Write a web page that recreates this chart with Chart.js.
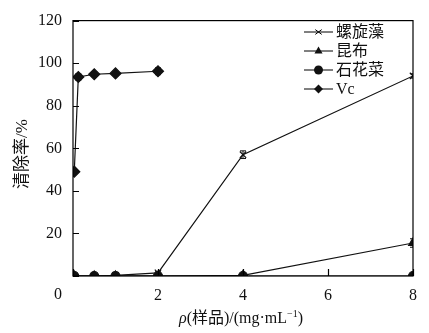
<!DOCTYPE html>
<html>
<head>
<meta charset="utf-8">
<script src="https://cdn.jsdelivr.net/npm/chart.js@4.4.0/dist/chart.umd.min.js"></script>
<style>
    html, body { margin: 0; padding: 0; background: #fff; }
    #wrap { width: 429px; height: 333px; }
</style>
</head>
<body>
<div id="wrap"><canvas id="scavengeChart"></canvas></div>
<script>
// Concentrations (mg/mL)
const seaweedDoses = [0.03, 0.5, 1, 2, 4, 8];
const vcDoses = [0.03, 0.125, 0.5, 1, 2];

// Scavenging rate (%)
const spirulina = [0, 0, 0.3, 1.5, 57, 94];
const kelp = [0, 0, 0, 0, 0.3, 15.5];
const nostoc = [0, 0, 0, 0, 0, 0];
const vitaminC = [49, 93.5, 94.8, 95.2, 96.2];

// Standard deviations
const spirulinaErr = [0, 0, 0, 0.5, 1.8, 1];
const kelpErr = [0, 0, 0, 0, 0, 2];
const nostocErr = [0, 0, 0, 0, 0, 0];
const vitaminCErr = [0, 1.5, 1, 1, 1.6];

const seriesNames = ['螺旋藻', '昆布', '石花菜', 'Vc'];
const xTicks = [0, 2, 4, 6, 8];
const yTicks = [0, 20, 40, 60, 80, 100, 120];
const yTitle = '清除率/%';

const FONT = '"Liberation Serif", "Times New Roman", "Noto Sans CJK SC", serif';

const toPoints = (xs, ys, errs) => xs.map((x, i) => ({ x: x, y: ys[i], err: errs[i] }));

const markers = [
    { style: 'crossRot', radius: 4.5 },
    { style: 'triangle', radius: 5 },
    { style: 'circle', radius: 4.5 },
    { style: 'rectRot', radius: 5.5 }
];

const makeSet = (label, data, marker) => ({
    label: label,
    data: data,
    showLine: true,
    borderColor: '#111',
    backgroundColor: '#111',
    borderWidth: 1.2,
    pointStyle: marker.style,
    pointRadius: marker.radius,
    pointBorderWidth: 1.2,
    pointBackgroundColor: '#111',
    pointBorderColor: '#111',
    clip: 0
});

// Draw a small marker by hand (for the legend)
const drawMarker = (ctx, style, x, y, r) => {
    ctx.beginPath();
    if (style === 'crossRot') {
        ctx.moveTo(x - r * 0.8, y - r * 0.6);
        ctx.lineTo(x + r * 0.8, y + r * 0.6);
        ctx.moveTo(x - r * 0.8, y + r * 0.6);
        ctx.lineTo(x + r * 0.8, y - r * 0.6);
        ctx.stroke();
        return;
    }
    if (style === 'triangle') {
        ctx.moveTo(x, y - r);
        ctx.lineTo(x + r * 0.9, y + r * 0.55);
        ctx.lineTo(x - r * 0.9, y + r * 0.55);
        ctx.closePath();
    } else if (style === 'circle') {
        ctx.arc(x, y, r, 0, Math.PI * 2);
    } else {
        ctx.moveTo(x, y - r);
        ctx.lineTo(x + r, y);
        ctx.lineTo(x, y + r);
        ctx.lineTo(x - r, y);
        ctx.closePath();
    }
    ctx.fill();
};

// x axis title: italic rho, plain text, superscript exponent
const drawXTitle = (ctx, cx, cy) => {
    const parts = [
        { t: 'ρ', f: 'italic 16px ' + FONT, dy: 0 },
        { t: '(样品)/(mg·mL', f: '16px ' + FONT, dy: 0 },
        { t: '−1', f: '10px ' + FONT, dy: -5 },
        { t: ')', f: '16px ' + FONT, dy: 0 }
    ];
    let total = 0;
    parts.forEach(p => { ctx.font = p.f; p.w = ctx.measureText(p.t).width; total += p.w; });
    let x = cx - total / 2;
    ctx.textAlign = 'left';
    ctx.textBaseline = 'middle';
    parts.forEach(p => {
        ctx.font = p.f;
        ctx.fillText(p.t, x, cy + p.dy);
        x += p.w;
    });
};

// Frame, inward ticks, error bars, legend, axis titles and the shared origin label
const decorations = {
    id: 'decorations',
    afterDatasetsDraw(chart) {
        const ctx = chart.ctx;
        const area = chart.chartArea;
        const xs = chart.scales.x;
        const ys = chart.scales.y;

        ctx.save();
        ctx.beginPath();
        ctx.rect(area.left, area.top, area.right - area.left, area.bottom - area.top);
        ctx.clip();
        ctx.strokeStyle = '#111';
        ctx.lineWidth = 1;
        chart.data.datasets.forEach(ds => {
            ds.data.forEach(p => {
                if (!p.err) return;
                const px = xs.getPixelForValue(p.x);
                const top = ys.getPixelForValue(p.y + p.err);
                const bot = ys.getPixelForValue(p.y - p.err);
                ctx.beginPath();
                ctx.moveTo(px, top);
                ctx.lineTo(px, bot);
                ctx.moveTo(px - 3, top);
                ctx.lineTo(px + 3, top);
                ctx.moveTo(px - 3, bot);
                ctx.lineTo(px + 3, bot);
                ctx.stroke();
            });
        });
        ctx.restore();

        ctx.save();
        ctx.strokeStyle = '#000';
        ctx.lineWidth = 1.2;
        ctx.strokeRect(area.left, area.top, area.right - area.left, area.bottom - area.top);
        ctx.beginPath();
        yTicks.forEach(v => {
            const py = Math.round(ys.getPixelForValue(v)) + 0.5;
            ctx.moveTo(area.left, py);
            ctx.lineTo(area.left + 6, py);
        });
        xTicks.forEach(v => {
            const px = Math.round(xs.getPixelForValue(v)) + 0.5;
            ctx.moveTo(px, area.bottom);
            ctx.lineTo(px, area.bottom - 7);
        });
        ctx.stroke();

        ctx.fillStyle = '#111';
        ctx.font = '16px ' + FONT;
        ctx.textAlign = 'center';
        ctx.textBaseline = 'middle';
        ctx.fillText('0', area.left - 15, area.bottom + 19);

        drawXTitle(ctx, (area.left + area.right) / 2 - 2, 319);

        // rotated y axis title
        ctx.save();
        ctx.translate(23, 154);
        ctx.rotate(-Math.PI / 2);
        ctx.font = '17px ' + FONT;
        ctx.textAlign = 'center';
        ctx.textBaseline = 'middle';
        ctx.fillText(yTitle, 0, 0);
        ctx.restore();

        // legend
        const lx = 304, lw = 29, ly = 32, step = 19;
        ctx.lineWidth = 1;
        ctx.font = '16px ' + FONT;
        ctx.textAlign = 'left';
        ctx.textBaseline = 'middle';
        seriesNames.forEach((name, i) => {
            const y = ly + i * step;
            ctx.beginPath();
            ctx.moveTo(lx, y);
            ctx.lineTo(lx + lw, y);
            ctx.stroke();
            drawMarker(ctx, markers[i].style, lx + lw / 2, y, i === 0 ? 4 : 4.5);
            ctx.fillText(name, lx + lw + 3, y + 1);
        });
        ctx.restore();
    }
};

document.addEventListener('DOMContentLoaded', () => {
    const ctx = document.getElementById('scavengeChart');
    new Chart(ctx.getContext('2d'), {
        type: 'scatter',
        data: {
            datasets: [
                makeSet(seriesNames[0], toPoints(seaweedDoses, spirulina, spirulinaErr), markers[0]),
                makeSet(seriesNames[1], toPoints(seaweedDoses, kelp, kelpErr), markers[1]),
                makeSet(seriesNames[2], toPoints(seaweedDoses, nostoc, nostocErr), markers[2]),
                makeSet(seriesNames[3], toPoints(vcDoses, vitaminC, vitaminCErr), markers[3])
            ]
        },
        options: {
            responsive: true,
            maintainAspectRatio: false,
            animation: false,
            layout: { padding: { left: 0, right: 16, top: 17, bottom: 0 } },
            plugins: {
                legend: { display: false },
                tooltip: { enabled: false }
            },
            scales: {
                x: {
                    type: 'linear',
                    min: 0,
                    max: 8,
                    afterBuildTicks: scale => { scale.ticks = xTicks.map(v => ({ value: v })); },
                    afterFit: scale => { scale.height = 57; },
                    grid: { display: false, drawTicks: false },
                    border: { display: false },
                    ticks: {
                        color: '#111',
                        padding: 10,
                        font: { family: FONT, size: 16 },
                        callback: v => (v === 0 ? '' : v)
                    }
                },
                y: {
                    min: 0,
                    max: 120,
                    afterBuildTicks: scale => { scale.ticks = yTicks.map(v => ({ value: v })); },
                    afterFit: scale => { scale.width = 73; },
                    grid: { display: false, drawTicks: false },
                    border: { display: false },
                    ticks: {
                        color: '#111',
                        padding: 11,
                        font: { family: FONT, size: 16 },
                        callback: v => (v === 0 ? '' : v)
                    }
                }
            }
        },
        plugins: [decorations]
    });
});
</script>
</body>
</html>
